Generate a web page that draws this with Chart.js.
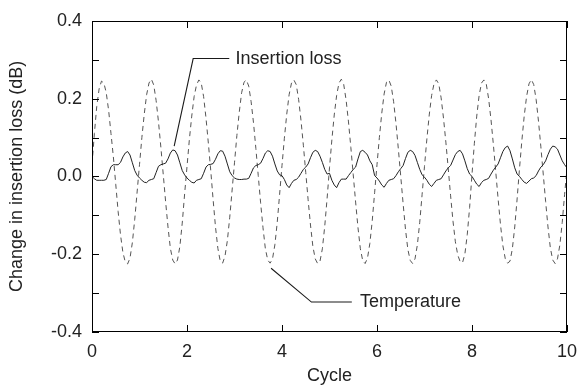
<!DOCTYPE html>
<html>
<head>
<meta charset="utf-8">
<script src="https://cdn.jsdelivr.net/npm/chart.js@4/dist/chart.umd.min.js"></script>
<style>
  html, body { margin: 0; padding: 0; background: #fff; overflow: hidden; }
  canvas { display: block; }
</style>
</head>
<body>
<canvas id="c" width="586" height="385"></canvas>
<script>
// ---- Data ----
// Sampling step along the cycle axis (values below are listed every 0.05 cycle, 0..10)
const cycleStep = 0.05;

// Change in insertion loss (dB) — solid line
const insertionLoss = [
  // cycle 0
  0.000, -0.006, -0.010, -0.010, -0.010, -0.010, -0.008, 0.008, 0.025, 0.030,
  0.030, 0.030, 0.036, 0.050, 0.060, 0.064, 0.055, 0.035, 0.015, 0.003,
  // cycle 1
  -0.004, -0.010, -0.015, -0.016, -0.010, -0.008, -0.006, 0.010, 0.026, 0.030,
  0.032, 0.034, 0.045, 0.060, 0.068, 0.066, 0.055, 0.035, 0.015, 0.004,
  // cycle 2
  -0.004, -0.010, -0.015, -0.017, -0.010, -0.008, -0.006, 0.008, 0.024, 0.030,
  0.031, 0.033, 0.044, 0.058, 0.066, 0.065, 0.052, 0.032, 0.012, 0.002,
  // cycle 3
  -0.004, -0.007, -0.008, -0.008, -0.007, -0.007, -0.005, 0.008, 0.022, 0.028,
  0.030, 0.034, 0.046, 0.060, 0.066, 0.064, 0.052, 0.032, 0.014, 0.004,
  // cycle 4
  0.002, -0.008, -0.022, -0.029, -0.018, -0.010, -0.008, -0.002, 0.008, 0.018,
  0.024, 0.032, 0.048, 0.062, 0.067, 0.064, 0.052, 0.036, 0.018, 0.006,
  // cycle 5
  0.008, -0.010, -0.022, -0.029, -0.016, -0.007, -0.007, -0.007, 0.002, 0.010,
  0.018, 0.024, 0.045, 0.064, 0.067, 0.062, 0.055, 0.040, 0.030, 0.002,
  // cycle 6
  -0.004, -0.012, -0.022, -0.028, -0.018, -0.010, -0.008, -0.006, 0.002, 0.012,
  0.020, 0.028, 0.046, 0.062, 0.067, 0.064, 0.054, 0.036, 0.018, 0.004,
  // cycle 7
  -0.002, -0.010, -0.020, -0.026, -0.018, -0.010, -0.008, -0.006, 0.004, 0.014,
  0.022, 0.028, 0.042, 0.056, 0.064, 0.067, 0.058, 0.040, 0.020, 0.006,
  // cycle 8
  0.000, -0.010, -0.020, -0.026, -0.016, -0.010, -0.008, -0.005, 0.006, 0.016,
  0.024, 0.032, 0.048, 0.064, 0.074, 0.078, 0.066, 0.045, 0.022, 0.006,
  // cycle 9
  0.000, -0.008, -0.015, -0.018, -0.012, -0.006, -0.004, 0.002, 0.014, 0.024,
  0.030, 0.040, 0.056, 0.070, 0.078, 0.076, 0.070, 0.055, 0.040, 0.030,
  // end
  0.022
];

// Temperature (scaled) — dashed line
const temperature = [
  // cycle 0
  0.030, 0.110, 0.180, 0.225, 0.245, 0.240, 0.215, 0.170, 0.110, 0.050,
  -0.020, -0.090, -0.150, -0.195, -0.220, -0.225, -0.210, -0.170, -0.110, -0.040,
  // cycle 1
  0.030, 0.100, 0.160, 0.210, 0.240, 0.250, 0.235, 0.195, 0.140, 0.075,
  0.005, -0.065, -0.130, -0.185, -0.215, -0.225, -0.215, -0.180, -0.120, -0.045,
  // cycle 2
  0.025, 0.095, 0.155, 0.205, 0.235, 0.248, 0.240, 0.205, 0.150, 0.085,
  0.015, -0.060, -0.130, -0.185, -0.218, -0.223, -0.205, -0.165, -0.105, -0.035,
  // cycle 3
  0.035, 0.105, 0.165, 0.215, 0.242, 0.248, 0.232, 0.192, 0.138, 0.072,
  0.002, -0.068, -0.132, -0.186, -0.215, -0.223, -0.212, -0.176, -0.118, -0.046,
  // cycle 4
  0.028, 0.098, 0.160, 0.210, 0.240, 0.248, 0.236, 0.198, 0.144, 0.080,
  0.010, -0.060, -0.125, -0.180, -0.212, -0.224, -0.218, -0.186, -0.128, -0.056,
  // cycle 5
  0.022, 0.094, 0.158, 0.208, 0.240, 0.250, 0.236, 0.196, 0.140, 0.074,
  0.004, -0.066, -0.132, -0.186, -0.217, -0.224, -0.210, -0.172, -0.114, -0.042,
  // cycle 6
  0.030, 0.100, 0.162, 0.212, 0.242, 0.248, 0.232, 0.192, 0.136, 0.070,
  0.000, -0.070, -0.136, -0.188, -0.216, -0.224, -0.212, -0.176, -0.118, -0.046,
  // cycle 7
  0.026, 0.096, 0.158, 0.208, 0.238, 0.248, 0.238, 0.202, 0.150, 0.088,
  0.020, -0.050, -0.115, -0.168, -0.202, -0.219, -0.222, -0.200, -0.150, -0.080,
  // cycle 8
  0.005, 0.085, 0.155, 0.208, 0.240, 0.248, 0.238, 0.200, 0.146, 0.082,
  0.012, -0.058, -0.124, -0.178, -0.211, -0.223, -0.218, -0.186, -0.130, -0.058,
  // cycle 9
  0.020, 0.092, 0.156, 0.206, 0.238, 0.249, 0.236, 0.198, 0.142, 0.076,
  0.006, -0.064, -0.130, -0.184, -0.215, -0.224, -0.212, -0.176, -0.118, -0.046,
  // end
  0.020
];

// Axis ticks and labels
const xTicks = [0, 2, 4, 6, 8, 10];
const yTicks = [-0.4, -0.3, -0.2, -0.1, 0.0, 0.1, 0.2, 0.3, 0.4];
const yLabelled = [-0.4, -0.2, 0.0, 0.2, 0.4];

// Callout annotations in data coordinates
const calloutLabels = ["Insertion loss", "Temperature"];
const calloutLeaders = [
  [[1.73, 0.078], [2.13, 0.303], [2.89, 0.303]],
  [[3.77, -0.236], [4.62, -0.323], [5.47, -0.323]]
];
const calloutText = [[3.02, 0.303], [5.64, -0.323]];

// ---- Build chart ----
const toPoints = arr => arr.map((v, i) => ({ x: +(i * cycleStep).toFixed(2), y: v }));

const FONT = '"Liberation Sans", Arial, Helvetica, sans-serif';
const TXT = '#222';
const FS = 18;

const framePlugin = {
  id: 'frame',
  afterDraw(chart) {
    const { ctx, chartArea: a, scales } = chart;
    const xs = scales.x, ys = scales.y;
    ctx.save();
    ctx.setLineDash([]);
    ctx.globalAlpha = 1;
    ctx.fillStyle = '#000';
    const L = Math.round(a.left), R = Math.round(a.right) - 1;
    const T = Math.round(a.top), B = Math.round(a.bottom) - 1;
    // frame as filled 1px rectangles
    ctx.fillRect(L, T, R - L + 1, 1);
    ctx.fillRect(L, B, R - L + 1, 1);
    ctx.fillRect(L, T, 1, B - T + 1);
    ctx.fillRect(R, T, 1, B - T + 1);
    // inward ticks
    const tl = 7;
    yTicks.forEach(v => {
      const py = Math.round(ys.getPixelForValue(v));
      ctx.fillRect(L, py, tl, 1);
      ctx.fillRect(R - tl + 1, py, tl, 1);
    });
    xTicks.forEach(v => {
      const px = Math.round(xs.getPixelForValue(v));
      ctx.fillRect(px, T, 1, tl);
      ctx.fillRect(px, B - tl + 1, 1, tl);
    });
    // callouts
    ctx.strokeStyle = '#1a1a1a';
    ctx.lineWidth = 1.1;
    calloutLeaders.forEach((pts, k) => {
      ctx.beginPath();
      pts.forEach((p, j) => {
        const px = xs.getPixelForValue(p[0]), py = ys.getPixelForValue(p[1]);
        if (j === 0) ctx.moveTo(px, py); else ctx.lineTo(px, py);
      });
      ctx.stroke();
      ctx.fillStyle = TXT;
      ctx.font = FS + 'px ' + FONT;
      ctx.textAlign = 'left';
      ctx.textBaseline = 'middle';
      ctx.fillText(calloutLabels[k], xs.getPixelForValue(calloutText[k][0]),
                   ys.getPixelForValue(calloutText[k][1]));
    });
    ctx.restore();
  }
};

new Chart(document.getElementById('c'), {
  type: 'line',
  data: {
    datasets: [
      {
        label: 'Insertion loss',
        data: toPoints(insertionLoss),
        borderColor: '#222',
        borderWidth: 1,
        pointRadius: 0,
        tension: 0,
        fill: false
      },
      {
        label: 'Temperature',
        data: toPoints(temperature),
        borderColor: '#555',
        borderWidth: 1,
        borderDash: [5, 4],
        pointRadius: 0,
        tension: 0,
        fill: false
      }
    ]
  },
  options: {
    responsive: false,
    animation: false,
    events: [],
    layout: { padding: { left: 0, right: 10, top: 19, bottom: 0 } },
    plugins: { legend: { display: false }, tooltip: { enabled: false } },
    scales: {
      x: {
        type: 'linear',
        min: 0, max: 10,
        afterBuildTicks: s => { s.ticks = xTicks.map(v => ({ value: v })); },
        afterFit: s => { s.height = 53; },
        grid: { display: false, drawTicks: false },
        border: { display: false },
        ticks: {
          color: TXT, padding: 9,
          font: { family: FONT, size: FS },
          callback: v => String(v)
        },
        title: {
          display: true, text: 'Cycle', color: TXT,
          font: { family: FONT, size: FS, lineHeight: 1.0 },
          padding: { top: 0, bottom: 0 }
        }
      },
      y: {
        type: 'linear',
        min: -0.4, max: 0.4,
        afterBuildTicks: s => { s.ticks = yLabelled.map(v => ({ value: v })); },
        afterFit: s => { s.width = 92; },
        grid: { display: false, drawTicks: false },
        border: { display: false },
        ticks: {
          color: TXT, padding: 10,
          font: { family: FONT, size: FS },
          callback: v => v.toFixed(1)
        },
        title: {
          display: true, text: 'Change in insertion loss (dB)', color: TXT,
          font: { family: FONT, size: FS, lineHeight: 1.2 },
          padding: { top: 6, bottom: 0 }
        }
      }
    }
  },
  plugins: [framePlugin]
});
</script>
</body>
</html>
